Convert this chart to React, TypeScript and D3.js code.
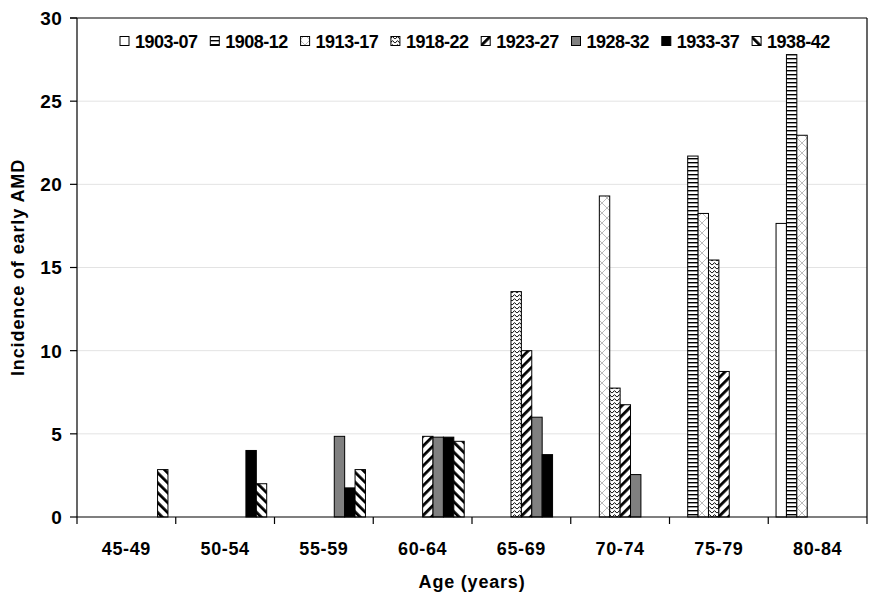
import React from "react";
import * as d3 from "d3";

const ageGroups = ["45-49", "50-54", "55-59", "60-64", "65-69", "70-74", "75-79", "80-84"];
const cohorts = ["1903-07", "1908-12", "1913-17", "1918-22", "1923-27", "1928-32", "1933-37", "1938-42"];

// incidence per age group, one array per birth cohort (null = no bar)
const c1903 = [null, null, null, null, null, null, null, 17.65];
const c1908 = [null, null, null, null, null, null, 21.7, 27.8];
const c1913 = [null, null, null, null, null, 19.3, 18.25, 22.95];
const c1918 = [null, null, null, null, 13.55, 7.75, 15.45, null];
const c1923 = [null, null, null, 4.85, 10.0, 6.75, 8.75, null];
const c1928 = [null, null, 4.85, 4.8, 6.0, 2.55, null, null];
const c1933 = [null, 4.0, 1.75, 4.8, 3.75, null, null, null];
const c1938 = [2.85, 2.0, 2.85, 4.55, null, null, null, null];

const yTicks = [0, 5, 10, 15, 20, 25, 30];

const seriesValues = [c1903, c1908, c1913, c1918, c1923, c1928, c1933, c1938];
const fills = [
  "#ffffff",
  "url(#p-hstripe)",
  "url(#p-trellis)",
  "url(#p-zigzag)",
  "url(#p-updiag)",
  "#808080",
  "#000000",
  "url(#p-downdiag)",
];

const width = 878;
const height = 596;
const margin = { top: 18, right: 11, bottom: 79, left: 77 };
const FONT = "Liberation Sans, Arial, sans-serif";

const App = () => {
  const innerW = width - margin.left - margin.right;
  const innerH = height - margin.top - margin.bottom;

  const x0 = d3.scaleBand<string>().domain(ageGroups).range([0, innerW]).padding(0);
  const x1 = d3
    .scaleBand<string>()
    .domain(cohorts)
    .range([0, x0.bandwidth()])
    .paddingInner(0)
    .paddingOuter(0.75);
  const y = d3.scaleLinear().domain([0, 30]).range([innerH, 0]);

  const bars: { key: string; x: number; y: number; h: number; fill: string }[] = [];
  cohorts.forEach((c, si) => {
    seriesValues[si].forEach((v, gi) => {
      if (v == null) return;
      bars.push({
        key: c + "-" + gi,
        x: (x0(ageGroups[gi]) as number) + (x1(c) as number),
        y: y(v),
        h: innerH - y(v),
        fill: fills[si],
      });
    });
  });

  const legendX = (i: number) => 135 + i * 90.3;

  return (
    <svg width={width} height={height} style={{ display: "block", position: "absolute", left: 0, top: 0, background: "#fff" }}>
      <defs>
        <pattern id="p-hstripe" patternUnits="userSpaceOnUse" width={4} height={4}>
          <rect width={4} height={4} fill="#fff" />
          <rect y={0} width={4} height={1.4} fill="#000" />
        </pattern>
        <pattern id="p-trellis" patternUnits="userSpaceOnUse" width={10} height={10}>
          <rect width={10} height={10} fill="#fff" />
          <path d="M0,0 L10,10 M10,0 L0,10" stroke="#bdbdbd" strokeWidth={1} />
        </pattern>
        <pattern id="p-zigzag" patternUnits="userSpaceOnUse" width={5} height={4}>
          <rect width={5} height={4} fill="#fff" />
          <path d="M0,3.2 L2.5,0.6 L5,3.2" stroke="#000" strokeWidth={1} fill="none" />
        </pattern>
        <pattern id="p-updiag" patternUnits="userSpaceOnUse" width={7} height={7} patternTransform="rotate(45)">
          <rect width={7} height={7} fill="#fff" />
          <rect x={0} width={2.8} height={7} fill="#000" />
        </pattern>
        <pattern id="p-downdiag" patternUnits="userSpaceOnUse" width={7} height={7} patternTransform="rotate(-45)">
          <rect width={7} height={7} fill="#fff" />
          <rect x={0} width={2.8} height={7} fill="#000" />
        </pattern>
      </defs>

      <g transform={`translate(${margin.left},${margin.top})`}>
        {/* gridlines */}
        {yTicks
          .filter((t) => t > 0 && t < 30)
          .map((t) => (
            <line key={"g" + t} x1={0} x2={innerW} y1={y(t)} y2={y(t)} stroke="#e3e3e3" strokeWidth={1} />
          ))}

        {/* bars */}
        {bars.map((b) => (
          <rect
            key={b.key}
            x={b.x}
            y={b.y}
            width={x1.bandwidth()}
            height={b.h}
            fill={b.fill}
            stroke="#000"
            strokeWidth={1}
          />
        ))}

        {/* frame: top and right */}
        <line x1={-7} x2={innerW} y1={0} y2={0} stroke="#000" strokeWidth={1.2} />
        <line x1={innerW} x2={innerW} y1={0} y2={innerH} stroke="#000" strokeWidth={1.2} />

        {/* y axis */}
        <line x1={0} x2={0} y1={0} y2={innerH} stroke="#000" strokeWidth={1.2} />
        {yTicks.map((t) => (
          <g key={"y" + t} transform={`translate(0,${y(t)})`}>
            <line x1={-7} x2={0} stroke="#000" strokeWidth={1.2} />
            <text
              x={-15}
              dy="0.36em"
              textAnchor="end"
              fontFamily={FONT}
              fontWeight="bold"
              fontSize={19}
              letterSpacing={0.3}
            >
              {t}
            </text>
          </g>
        ))}

        {/* x axis */}
        <line x1={0} x2={innerW} y1={innerH} y2={innerH} stroke="#000" strokeWidth={1.2} />
        {ageGroups.map((g, i) => (
          <line
            key={"xt" + i}
            x1={(x0(g) as number) + x0.bandwidth()}
            x2={(x0(g) as number) + x0.bandwidth()}
            y1={innerH}
            y2={innerH + 7}
            stroke="#000"
            strokeWidth={1.2}
          />
        ))}
        <line x1={0} x2={0} y1={innerH} y2={innerH + 7} stroke="#000" strokeWidth={1.2} />
        {ageGroups.map((g) => (
          <text
            key={"xl" + g}
            x={(x0(g) as number) + x0.bandwidth() / 2}
            y={innerH + 38}
            textAnchor="middle"
            fontFamily={FONT}
            fontWeight="bold"
            fontSize={18}
            letterSpacing={0.6}
          >
            {g}
          </text>
        ))}
      </g>

      {/* axis titles */}
      <text
        x={margin.left + innerW / 2}
        y={588}
        textAnchor="middle"
        fontFamily={FONT}
        fontWeight="bold"
        fontSize={18}
        letterSpacing={0.8}
      >
        Age (years)
      </text>
      <text
        transform={`translate(24,${margin.top + innerH / 2}) rotate(-90)`}
        textAnchor="middle"
        fontFamily={FONT}
        fontWeight="bold"
        fontSize={18}
        letterSpacing={0.9}
      >
        Incidence of early AMD
      </text>

      {/* legend */}
      {cohorts.map((c, i) => (
        <g key={"lg" + c}>
          <rect x={legendX(i) - 15} y={36.5} width={9} height={9} fill={fills[i]} stroke="#000" strokeWidth={1} />
          <text x={legendX(i)} y={47.5} fontFamily={FONT} fontWeight="bold" fontSize={18} letterSpacing={-0.5}>
            {c}
          </text>
        </g>
      ))}
    </svg>
  );
};

export default App;
